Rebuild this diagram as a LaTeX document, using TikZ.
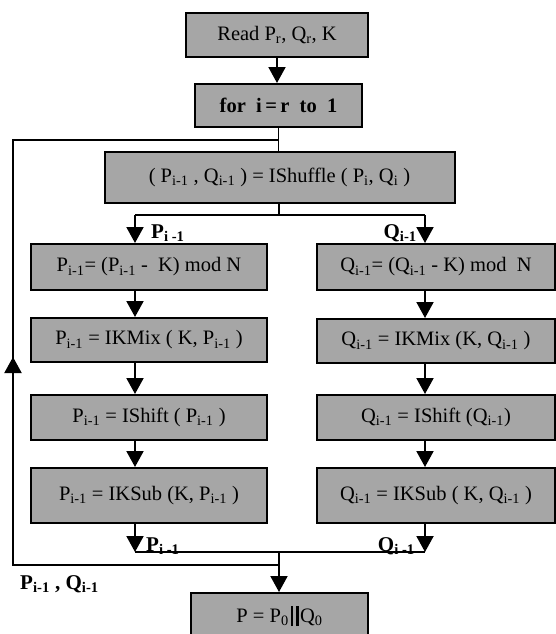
\documentclass[tikz,border=0pt]{standalone}
\usepackage{fontspec}
\setmainfont{Liberation Serif}
\usetikzlibrary{arrows.meta}
\definecolor{boxgray}{RGB}{166,166,166}
\newcommand{\sbs}[1]{\textsubscript{#1}}
\newcommand{\parbars}{\hspace{2pt}\rule[-4pt]{2.2pt}{20pt}\hspace{3.5pt}\rule[-4pt]{2.2pt}{20pt}\hspace{1.5pt}}
\begin{document}
\begin{tikzpicture}[x=1pt,y=-1pt,
  font=\fontsize{20.5}{24}\selectfont,
  box/.style={draw=black,line width=2pt,fill=boxgray,inner sep=0pt,minimum width=#1},
  arr/.style={line width=2pt,-{Triangle[width=17pt,length=16pt]}},
  link/.style={line width=1.4pt},
  lab/.style={font=\fontsize{21}{24}\selectfont\bfseries,inner sep=0pt}]
\fill[white] (0,0) rectangle (555,634);
\useasboundingbox (0,0) rectangle (555,634);

% boxes
\node[box=182pt,minimum height=44pt] (read) at (277,35) {Read P\sbs{r}, Q\sbs{r}, K\hspace{18pt}};
\node[box=167pt,minimum height=43pt] (for) at (278.5,105.5) {\bfseries for\ \ i\,=\,r\ \ to\ \ 1};
\node[box=350pt,minimum height=51pt] (shuf) at (279.5,177.5) {( P\sbs{i-1} , Q\sbs{i-1} ) = IShuffle ( P\sbs{i}, Q\sbs{i} )};

\node[box=236pt,minimum height=46pt] (p1) at (149,267) {P\sbs{i-1}= (P\sbs{i-1} -\ \ K) mod N};
\node[box=236pt,minimum height=44pt] (p2) at (149,340) {P\sbs{i-1} = IKMix ( K, P\sbs{i-1} )};
\node[box=236pt,minimum height=45pt] (p3) at (149,417.5) {P\sbs{i-1} = IShift ( P\sbs{i-1} )};
\node[box=236pt,minimum height=55pt] (p4) at (149,495.5) {P\sbs{i-1} = IKSub (K, P\sbs{i-1} )};

\node[box=238pt,minimum height=46pt] (q1) at (436,267) {Q\sbs{i-1}= (Q\sbs{i-1} - K) mod\ \ N};
\node[box=238pt,minimum height=44pt] (q2) at (436,341) {Q\sbs{i-1} = IKMix (K, Q\sbs{i-1} )};
\node[box=238pt,minimum height=45pt] (q3) at (436,417.5) {Q\sbs{i-1} = IShift (Q\sbs{i-1})};
\node[box=238pt,minimum height=55pt] (q4) at (436,495.5) {Q\sbs{i-1} = IKSub ( K, Q\sbs{i-1} )};

\node[box=177pt,minimum height=46pt] (final) at (279.5,616) {P = P\sbs{0}\parbars Q\sbs{0}};

% coordinates
\coordinate (br) at (279,215);
\coordinate (bl) at (135,215);
\coordinate (brr) at (425,215);
\coordinate (jl) at (135,552);
\coordinate (jr) at (425,552);
\coordinate (jc) at (279,552);
\coordinate (lb) at (279,565);
\coordinate (lbl) at (13,565);
\coordinate (ltl) at (13,140);
\coordinate (lt) at (279,140);
\coordinate (la) at (13,374);
\coordinate (lah) at (13,357);

% connectors
\draw[arr] (read.south) -- (read.south |- for.north);
\draw[link] (for.south) -- (for.south |- shuf.north);
\draw[link] (br |- shuf.south) -- (br);
\draw[link] (bl) -- (brr);
\draw[arr] (bl) -- (bl |- p1.north);
\draw[arr] (brr) -- (brr |- q1.north);
\draw[arr] (bl |- p1.south) -- (bl |- p2.north);
\draw[arr] (bl |- p2.south) -- (bl |- p3.north);
\draw[arr] (bl |- p3.south) -- (bl |- p4.north);
\draw[arr] (brr |- q1.south) -- (brr |- q2.north);
\draw[arr] (brr |- q2.south) -- (brr |- q3.north);
\draw[arr] (brr |- q3.south) -- (brr |- q4.north);
\draw[arr] (bl |- p4.south) -- (jl);
\draw[arr] (brr |- q4.south) -- (jr);
\draw[link] (jl) -- (jr);
\draw[arr] (jc) -- (jc |- final.north);
\draw[link] (lb) -- (lbl) -- (ltl) -- (lt);
\draw[arr] (la) -- (lah);

% labels
\node[lab,anchor=west] (lp1) at (151,233) {P\sbs{i -1}};
\node[lab,anchor=east] (lq1) at (417,233) {Q\sbs{i-1}};
\node[lab,anchor=west] (lp4) at (146,546) {P\sbs{i -1}};
\node[lab,anchor=east] (lq4) at (415,546) {Q\sbs{i -1}};
\node[lab,anchor=west] (lloop) at (20,584) {P\sbs{i-1} , Q\sbs{i-1}};
\end{tikzpicture}
\end{document}
